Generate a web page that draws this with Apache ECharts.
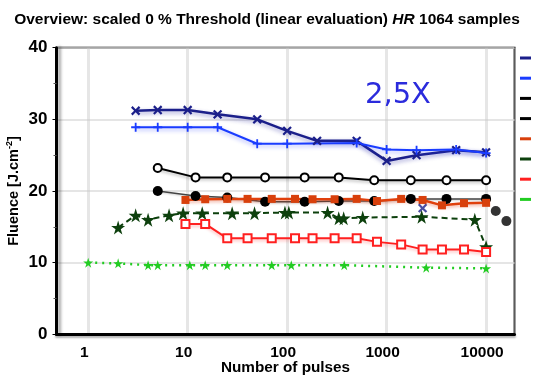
<!DOCTYPE html>
<html><head><meta charset="utf-8">
<script src="https://cdn.jsdelivr.net/npm/echarts@6/dist/echarts.min.js"></script>
<style>html,body{margin:0;padding:0;background:#fff}#c{width:534px;height:376px}</style>
</head><body><div id="c"></div>
<script>
// ---- data ----
const seriesNames = ['1064 HR A', '1064 HR B', '1064 HR C', '1064 HR D', '1064 HR E', '1064 HR F', '1064 HR G', '1064 HR H'];
const xNavy = [3, 5, 10, 20, 50, 100, 200, 500, 1000, 2000, 5000, 10000];
const yNavy = [31.2, 31.3, 31.3, 30.7, 30.0, 28.4, 27.0, 27.0, 24.2, 25.0, 25.7, 25.4];
const xNavyExtra = [2300];
const yNavyExtra = [17.6];
const xBlue = [3, 5, 10, 20, 50, 100, 500, 1000, 2000, 5000, 10000];
const yBlue = [28.9, 28.9, 28.9, 28.9, 26.6, 26.6, 26.7, 25.8, 25.7, 25.8, 25.3];
const xOpenCircle = [5, 12, 25, 60, 150, 330, 750, 1750, 4000, 10000];
const yOpenCircle = [23.2, 21.9, 21.9, 21.9, 21.9, 21.9, 21.5, 21.5, 21.5, 21.5];
const xFilledCircle = [5, 12, 25, 60, 150, 330, 750, 1750, 4000, 10000];
const yFilledCircle = [20.0, 19.3, 19.1, 18.5, 18.5, 18.6, 18.6, 18.9, 18.9, 18.9];
const xFilledExtra = [12500, 16000];
const yFilledExtra = [17.2, 15.8];
const xSquares = [9.5, 15, 25, 40, 70, 120, 180, 300, 500, 800, 1400, 2300, 3600, 6000, 10000];
const yOrange = [18.75, 18.85, 18.9, 18.9, 18.9, 18.9, 18.85, 18.85, 18.9, 18.6, 18.9, 18.75, 18.0, 18.3, 18.35];
const yRedOpen = [15.4, 15.4, 13.4, 13.4, 13.4, 13.4, 13.4, 13.4, 13.4, 12.9, 12.55, 11.85, 11.85, 11.85, 11.5];
const xDarkGreen = [2, 3, 4, 6.5, 9, 14, 28, 47, 95, 104, 255, 330, 370, 575, 2250, 7700, 10000];
const yDarkGreen = [14.9, 16.6, 16.0, 16.6, 16.9, 16.9, 16.9, 16.9, 17.0, 17.0, 17.0, 16.2, 16.2, 16.3, 16.4, 16.0, 12.2];
const xLightGreen = [1, 2, 4, 5, 10.5, 15, 25, 70, 110, 375, 2500, 10000];
const yLightGreen = [10.0, 9.9, 9.65, 9.65, 9.65, 9.65, 9.65, 9.65, 9.65, 9.65, 9.3, 9.2];
const yTicks = [0, 10, 20, 30, 40];
const xTickLabels = {1: '1', 10: '10', 100: '100', 1000: '1000', 10000: '10000'};

const pair = (xs, ys) => xs.map((x, i) => [x, ys[i]]);
const STAR = 'path://M50,0L61,35H98L68,57L79,91L50,70L21,91L32,57L2,35H39Z';
const PLUS = 'path://M4,0H6V4H10V6H6V10H4V6H0V4H4Z';
const FONT = '"Liberation Sans", Arial, sans-serif';

function lineSeries(name, data, color, opts) {
  return Object.assign({
    name: name, type: 'line', data: data,
    lineStyle: {color: color, width: 2, shadowColor: 'rgba(0,0,0,0.25)', shadowBlur: 3, shadowOffsetY: 2},
    itemStyle: {color: color},
    symbolSize: 8,
    z: 3
  }, opts);
}

const chart = echarts.init(document.getElementById('c'), null, {renderer: 'canvas'});
chart.setOption({
  animation: false,
  backgroundColor: '#fff',
  title: {
    text: '{b|Overview: scaled 0 % Threshold (linear evaluation) }{i|HR}{b| 1064 samples}',
    left: 'center', top: 7,
    textStyle: {
      rich: {
        b: {fontFamily: FONT, fontWeight: 'bold', fontSize: 15.5, color: '#000'},
        i: {fontFamily: FONT, fontWeight: 'bold', fontStyle: 'italic', fontSize: 15.5, color: '#000'}
      }
    }
  },
  legend: {
    orient: 'vertical', left: 515, top: 47.5,
    itemWidth: 11, itemHeight: 3, itemGap: 9.2,
    icon: 'rect',
    textStyle: {fontFamily: FONT, fontSize: 11, fontWeight: 'bold'},
    data: seriesNames.map((n, i) => ({name: n, textStyle: {color: ['#1b1f8a', '#1a3cff', '#000', '#000', '#d8400c', '#0d400d', '#ff2020', '#22cc22'][i]}}))
  },
  grid: {left: 56.5, right: 19.5, top: 47.7, bottom: 41.7, containLabel: false, outerBoundsMode: 'none',
    show: true, borderColor: '#000', borderWidth: 2},
  xAxis: {
    type: 'log', logBase: 10, min: 0.48, max: 19300,
    name: 'Number of pulses', nameLocation: 'middle', nameGap: 25.5, nameMoveOverlap: false,
    nameTextStyle: {fontFamily: FONT, fontWeight: 'bold', fontSize: 15.3, color: '#000'},
    axisLine: {lineStyle: {color: '#000', width: 3, shadowColor: 'rgba(0,0,0,0.3)', shadowBlur: 2, shadowOffsetY: 2}},
    axisTick: {show: false},
    axisLabel: {
      fontFamily: FONT, fontWeight: 'bold', fontSize: 15.5, color: '#000', margin: 10,
      showMinLabel: false, showMaxLabel: false,
      padding: [0, 8, 0, 0],
      formatter: v => xTickLabels[Math.round(v)] && Math.abs(Math.log10(v) - Math.round(Math.log10(v))) < 1e-6 ? xTickLabels[Math.round(v)] : ''
    },
    splitLine: {show: true, lineStyle: {color: 'rgba(200,200,200,0.45)', width: 3}}
  },
  yAxis: {
    type: 'value', min: 0, max: 40, interval: 10,
    name: '{a|Fluence [J.cm}{s|-2}{a|]}', nameLocation: 'middle', nameGap: 34, nameRotate: 90, nameMoveOverlap: false,
    nameTextStyle: {
      rich: {
        a: {fontFamily: FONT, fontWeight: 'bold', fontSize: 14.5, color: '#000'},
        s: {fontFamily: FONT, fontWeight: 'bold', fontSize: 9, color: '#000', verticalAlign: 'top', padding: [0, 0, 8, 0]}
      }
    },
    axisLine: {show: true, lineStyle: {color: '#000', width: 3, shadowColor: 'rgba(0,0,0,0.35)', shadowBlur: 3, shadowOffsetX: 3}},
    axisTick: {show: true, length: 4, lineStyle: {color: '#000', width: 1}},
    minorTick: {show: true, splitNumber: 2, length: 3, lineStyle: {color: '#555'}},
    axisLabel: {fontFamily: FONT, fontWeight: 'bold', fontSize: 17, color: '#000', margin: 9,
      formatter: v => yTicks.includes(v) ? String(v) : ''},
    splitLine: {show: true, lineStyle: {color: '#dcdcdc', width: 1.5}}
  },
  graphic: [{
    type: 'text', left: 365, top: 81, z: 10,
    style: {text: '2,5X', fontFamily: '"DejaVu Sans", sans-serif', fontSize: 29, fill: '#2b2bdc'}
  }],
  series: [
    lineSeries(seriesNames[0], pair(xNavy, yNavy), '#1b1f8a', {symbol: PLUS, symbolRotate: 45, symbolSize: 11,
      lineStyle: {color: '#1b1f8a', width: 2.5, shadowColor: 'rgba(40,40,160,0.45)', shadowBlur: 4, shadowOffsetY: 2}}),
    lineSeries(seriesNames[1], pair(xBlue, yBlue), '#1a3cff', {symbol: PLUS, symbolSize: 9,
      lineStyle: {color: '#1a3cff', width: 2, shadowColor: 'rgba(40,60,255,0.4)', shadowBlur: 4, shadowOffsetY: 2}}),
    lineSeries(seriesNames[2], pair(xOpenCircle, yOpenCircle), '#000', {symbol: 'emptyCircle', symbolSize: 8,
      itemStyle: {color: '#000', borderWidth: 2}}),
    lineSeries(seriesNames[3], pair(xFilledCircle, yFilledCircle), '#000', {symbol: 'circle', symbolSize: 10,
      lineStyle: {color: '#444', width: 1.5, shadowColor: 'rgba(0,0,0,0.2)', shadowBlur: 2, shadowOffsetY: 1}}),
    lineSeries(seriesNames[4], pair(xSquares, yOrange), '#d8400c', {symbol: 'rect', symbolSize: 8,
      lineStyle: {color: '#e0400c', width: 2.5, shadowColor: 'rgba(220,60,20,0.35)', shadowBlur: 3, shadowOffsetY: 2}}),
    lineSeries(seriesNames[5], pair(xDarkGreen, yDarkGreen), '#0d400d', {symbol: STAR, symbolSize: 14,
      lineStyle: {color: '#0d400d', width: 2, type: [6, 4], shadowBlur: 0}}),
    lineSeries(seriesNames[6], pair(xSquares, yRedOpen), '#ff2020', {symbol: 'emptyRect', symbolSize: 8,
      itemStyle: {color: '#ff2020', borderWidth: 1.5},
      lineStyle: {color: '#ff2020', width: 2, shadowColor: 'rgba(255,40,40,0.3)', shadowBlur: 3, shadowOffsetY: 2}}),
    lineSeries(seriesNames[7], pair(xLightGreen, yLightGreen), '#22cc22', {symbol: STAR, symbolSize: 10,
      lineStyle: {color: '#22cc22', width: 2.5, type: [2, 5], shadowBlur: 0}}),
    {name: 'extra navy', type: 'scatter', data: pair(xNavyExtra, yNavyExtra), symbol: PLUS, symbolRotate: 45, symbolSize: 11,
      itemStyle: {color: '#1b1f8a'}, z: 3},
    {name: 'extra black', type: 'scatter', data: pair(xFilledExtra, yFilledExtra), symbol: 'circle', symbolSize: 10,
      itemStyle: {color: '#000'}, z: 3}
  ]
});
</script></body></html>
